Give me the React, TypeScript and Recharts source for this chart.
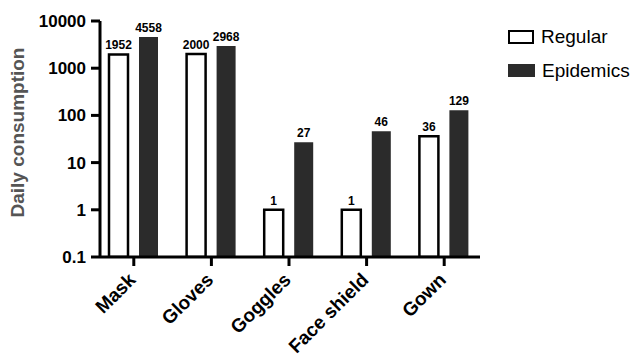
import React from "react";
import { BarChart, Bar, XAxis, YAxis, LabelList } from "recharts";

const categories = ["Mask", "Gloves", "Goggles", "Face shield", "Gown"];
const regular = [1952, 2000, 1, 1, 36];
const epidemics = [4558, 2968, 27, 46, 129];
const yTicks = [0.1, 1, 10, 100, 1000, 10000];
const seriesNames = ["Regular", "Epidemics"];

const data = categories.map((name, i) => ({
  name,
  regular: regular[i],
  epidemics: epidemics[i],
}));

const FONT = '"Liberation Sans", Arial, Helvetica, sans-serif';
const DARK = "#2b2b2b";

// slanted category labels, text ends just right of the tick
const RotatedTick = (props: any) => {
  const { x, y, payload } = props;
  return (
    <g transform={`translate(${x + 3},${y + 13})`}>
      <text
        x={0}
        y={0}
        textAnchor="end"
        transform="rotate(-45)"
        fontFamily={FONT}
        fontWeight={700}
        fontSize={19}
        fill="#000"
      >
        {payload.value}
      </text>
    </g>
  );
};

const YLabel = () => (
  <text
    x={24}
    y={132.5}
    transform="rotate(-90, 24, 132.5)"
    textAnchor="middle"
    fontFamily={FONT}
    fontWeight={700}
    fontSize={19}
    fill="#555"
  >
    Daily consumption
  </text>
);

// legend sits to the right of the plot, outside the chart's layout
const LegendBox = () => (
  <div
    style={{
      position: "absolute",
      left: 508,
      top: 0,
      fontFamily: FONT,
      fontSize: 19,
      color: "#000",
    }}
  >
    <div style={{ position: "absolute", left: 0, top: 29, display: "flex", alignItems: "center", whiteSpace: "nowrap" }}>
      <div
        style={{
          width: 22,
          height: 10,
          border: "2.5px solid #000",
          background: "#fff",
        }}
      />
      <span style={{ marginLeft: 7, lineHeight: "15px" }}>{seriesNames[0]}</span>
    </div>
    <div style={{ position: "absolute", left: 0, top: 64, display: "flex", alignItems: "center", whiteSpace: "nowrap" }}>
      <div style={{ width: 27, height: 13, background: DARK }} />
      <span style={{ marginLeft: 7, lineHeight: "13px" }}>{seriesNames[1]}</span>
    </div>
  </div>
);

export default function App() {
  return (
    <div style={{ position: "absolute", left: 0, top: 0, width: 632, height: 357, background: "#fff", overflow: "hidden" }}>
      <BarChart
        width={632}
        height={357}
        data={data}
        margin={{ top: 21, right: 152, bottom: 0, left: 0 }}
        barSize={19}
        barGap={11}
      >
        <XAxis
          dataKey="name"
          interval={0}
          padding={{ left: -5, right: -3 }}
          axisLine={{ stroke: "#000", strokeWidth: 3 }}
          tickLine={{ stroke: "#000", strokeWidth: 3 }}
          tickSize={9}
          tick={<RotatedTick />}
          height={100}
        />
        <YAxis
          scale="log"
          domain={[0.1, 10000]}
          ticks={yTicks}
          allowDataOverflow
          width={100}
          interval={0}
          axisLine={{ stroke: "#000", strokeWidth: 3 }}
          tickLine={{ stroke: "#000", strokeWidth: 3 }}
          tickSize={9}
          tickMargin={5}
          tickFormatter={(v: number) => String(v)}
          tick={{ fill: "#000", fontFamily: FONT, fontWeight: 700, fontSize: 17 }}
          label={<YLabel />}
        />
        <Bar
          dataKey="regular"
          name={seriesNames[0]}
          fill="#fff"
          stroke="#000"
          strokeWidth={2.5}
          isAnimationActive={false}
        >
          <LabelList
            dataKey="regular"
            position="top"
            offset={5}
            fill="#000"
            fontFamily={FONT}
            fontWeight={700}
            fontSize={12}
          />
        </Bar>
        <Bar
          dataKey="epidemics"
          name={seriesNames[1]}
          fill={DARK}
          isAnimationActive={false}
        >
          <LabelList
            dataKey="epidemics"
            position="top"
            offset={5}
            fill="#000"
            fontFamily={FONT}
            fontWeight={700}
            fontSize={12}
          />
        </Bar>
      </BarChart>
      <LegendBox />
    </div>
  );
}
